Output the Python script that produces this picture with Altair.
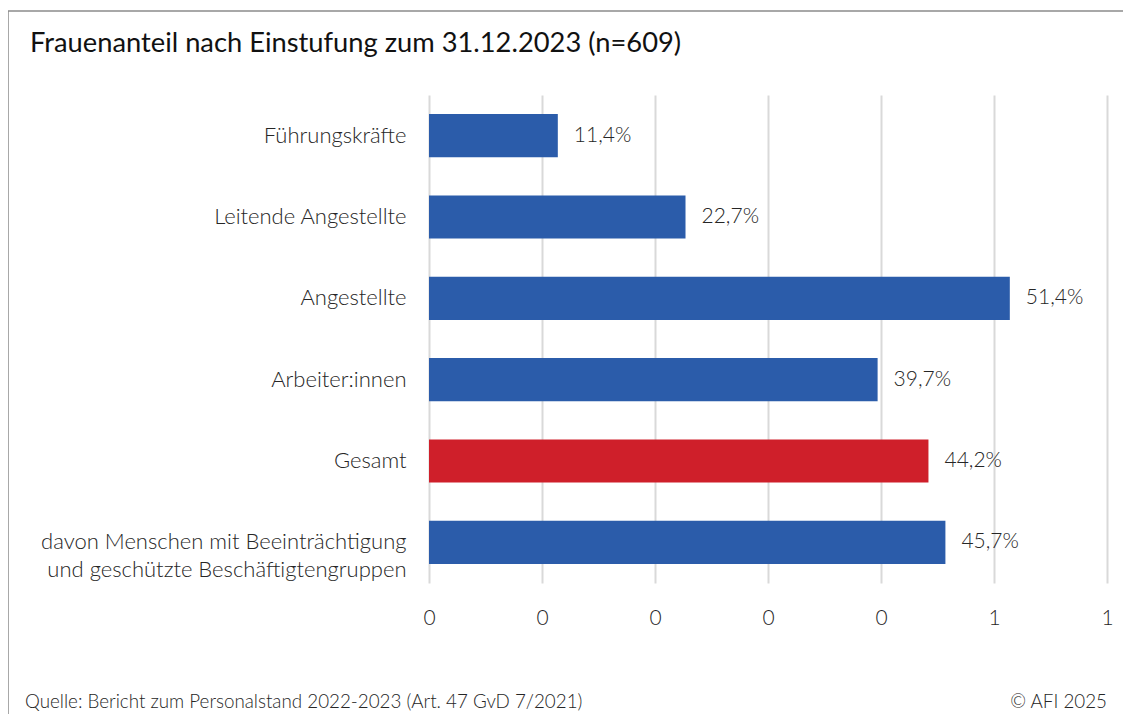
import altair as alt
import pandas as pd

kategorien = [
    "Führungskräfte ",
    "Leitende Angestellte",
    "Angestellte ",
    "Arbeiter:innen",
    "Gesamt",
    "davon Menschen mit Beeinträchtigung\nund geschützte Beschäftigtengruppen",
]
anteile = [0.114, 0.227, 0.514, 0.397, 0.442, 0.457]
farben = ["#2B5CAA", "#2B5CAA", "#2B5CAA", "#2B5CAA", "#CF1F2A", "#2B5CAA"]
x_ticks = [0, 0.1, 0.2, 0.3, 0.4, 0.5, 0.6]

titel = "Frauenanteil nach Einstufung zum 31.12.2023 (n=609)"
quelle = "Quelle: Bericht zum Personalstand 2022-2023 (Art. 47 GvD 7/2021)"
copyright_txt = "© AFI 2025"

FONT = "Lato"
W, H = 678, 488

df = pd.DataFrame({
    "kategorie": kategorien,
    "anteil": anteile,
    "farbe": farben,
    "label": [f"{v*100:.1f}".replace(".", ",") + "%" for v in anteile],
})

frame = alt.Chart(pd.DataFrame({"a": [0]})).mark_rect(
    filled=False, stroke="#8c8c8c", strokeWidth=1.5
).encode(
    x=alt.value(-421), x2=alt.value(740), y=alt.value(-84), y2=alt.value(700)
)

y_enc = alt.Y(
    "kategorie:N", sort=kategorien, title=None,
    scale=alt.Scale(paddingInner=0.47, paddingOuter=0.235),
    axis=alt.Axis(
        labelExpr="split(datum.label, '\\n')", labelFont=FONT, labelFontSize=22,
        labelFontWeight=300, labelColor="#262626", labelPadding=23, labelLineHeight=28,
        ticks=False, domain=False, grid=False, labelLimit=500,
    ),
)
x_enc = alt.X(
    "anteil:Q", title=None,
    scale=alt.Scale(domain=[0, 0.6], nice=False),
    axis=alt.Axis(
        values=x_ticks, format=".0f", labelFont=FONT, labelFontSize=21,
        labelFontWeight=300, labelColor="#262626", labelPadding=24, labelFlush=False,
        ticks=False, domain=False, grid=True, gridColor="#d9d9d9", gridWidth=2,
    ),
)

bars = alt.Chart(df).mark_bar().encode(
    y=y_enc, x=x_enc, color=alt.Color("farbe:N", scale=None)
)
texts = alt.Chart(df).mark_text(
    align="left", dx=16, font=FONT, fontSize=21, fontWeight=300, color="#262626"
).encode(y=alt.Y("kategorie:N", sort=kategorien), x="anteil:Q", text="label:N")

deko = pd.DataFrame({"a": [0]})
title_mark = alt.Chart(deko).mark_text(
    align="left", baseline="alphabetic", font=FONT, fontSize=27.3, color="#111111"
).encode(x=alt.value(-399), y=alt.value(-43), text=alt.value(titel))
quelle_mark = alt.Chart(deko).mark_text(
    align="left", baseline="alphabetic", font=FONT, fontSize=18.8, fontWeight=300, color="#262626"
).encode(x=alt.value(-404), y=alt.value(613), text=alt.value(quelle))
copy_mark = alt.Chart(deko).mark_text(
    align="right", baseline="alphabetic", font=FONT, fontSize=18.8, fontWeight=300, color="#262626"
).encode(x=alt.value(678), y=alt.value(613), text=alt.value(copyright_txt))

chart = alt.layer(frame, bars, texts, title_mark, quelle_mark, copy_mark).properties(
    width=W, height=H,
    autosize=alt.AutoSizeParams(type="none"),
    padding={"left": 421, "top": 87, "right": 16, "bottom": 131},
).configure(background="white").configure_view(stroke=None)

chart.save("out.html", embed_options={"renderer": "svg", "actions": False})
